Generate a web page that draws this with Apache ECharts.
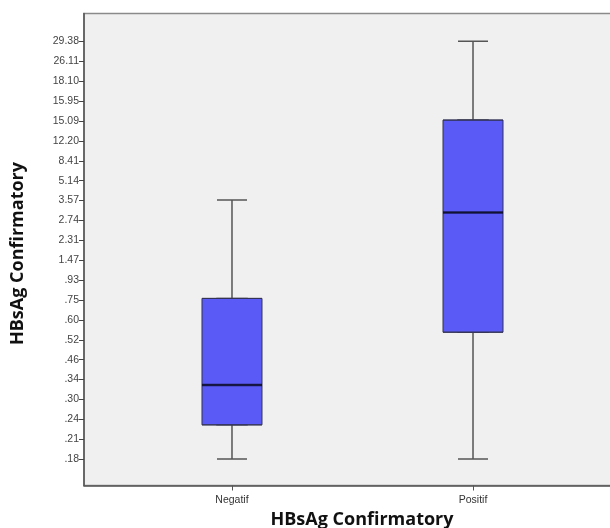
<!DOCTYPE html>
<html>
<head>
<meta charset="utf-8">
<script src="https://cdn.jsdelivr.net/npm/echarts@6/dist/echarts.min.js"></script>
<style>html,body{margin:0;padding:0;background:#fff}#c{width:610px;height:528px}</style>
</head>
<body>
<div id="c"></div>
<script>
// Category labels on x (positions 0,1)
var categories = ['Negatif', 'Positif'];
// Ordinal y tick labels (rank 0 = bottom)
var yTickLabels = ['.18', '.21', '.24', '.30', '.34', '.46', '.52', '.60', '.75', '.93', '1.47',
  '2.31', '2.74', '3.57', '5.14', '8.41', '12.20', '15.09', '15.95', '18.10', '26.11', '29.38'];
// Box statistics, in rank units of the ordinal y axis
var whiskerMin = [0, 0];
var q1 = [1.72, 6.38];
var median = [3.73, 12.4];
var q3 = [8.08, 17.05];
var whiskerMax = [13.03, 21.02];

var chart = echarts.init(document.getElementById('c'), null, {renderer: 'canvas'});

var whiskerData = categories.map(function (c, i) { return [i, whiskerMin[i], q1[i], median[i], q3[i], whiskerMax[i]]; });
var boxData = categories.map(function (c, i) { return [i, q1[i], q1[i], median[i], q3[i], q3[i]]; });
var medData = categories.map(function (c, i) { return [i, median[i]]; });
var yIdx = yTickLabels.map(function (l, i) { return i; });
var xIdx = categories.map(function (c, i) { return i; });

chart.setOption({
  animation: false,
  backgroundColor: '#ffffff',
  grid: {
    left: 84, top: 13.5, right: -11, bottom: 42.5,
    outerBoundsMode: 'none', containLabel: false,
    show: true, backgroundColor: '#f0f0f0', borderColor: '#8a8a8a', borderWidth: 1.5
  },
  xAxis: [{
    type: 'value', min: -0.614, max: 1.614,
    splitLine: {show: false},
    axisLine: {show: true, onZero: false, lineStyle: {color: '#555', width: 1.5}},
    axisTick: {show: true, customValues: xIdx, length: 5, lineStyle: {color: '#555'}},
    axisLabel: {customValues: xIdx, formatter: function (v) { return categories[Math.round(v)]; },
      fontFamily: 'Liberation Sans', fontSize: 10.5, color: '#333', margin: 9},
    name: 'HBsAg Confirmatory', nameLocation: 'middle', nameGap: 19,
    nameTextStyle: {fontFamily: 'Open Sans', fontWeight: 'bold', fontSize: 18, color: '#111', padding: [0, 0, 0, 19]}
  }, {
    type: 'value', min: -0.614, max: 1.614, show: false
  }],
  yAxis: {
    type: 'value', min: -1.33, max: 22.41,
    splitLine: {show: false},
    axisLine: {show: true, onZero: false, lineStyle: {color: '#555', width: 1.5}},
    axisTick: {show: true, customValues: yIdx, length: 5, lineStyle: {color: '#444'}},
    axisLabel: {customValues: yIdx, formatter: function (v) { return yTickLabels[Math.round(v)]; },
      fontFamily: 'Liberation Sans', fontSize: 10.5, color: '#444', margin: 5},
    name: 'HBsAg Confirmatory', nameLocation: 'middle', nameGap: 57, nameRotate: 90,
    nameTextStyle: {fontFamily: 'Open Sans', fontWeight: 'bold', fontSize: 18, color: '#111', padding: [0, 8, 0, 0]}
  },
  series: [
    {
      type: 'boxplot', xAxisIndex: 0, z: 2, boxWidth: [30, 30],
      itemStyle: {color: 'rgba(0,0,0,0)', borderColor: '#555', borderWidth: 1.5},
      data: whiskerData
    },
    {
      type: 'boxplot', xAxisIndex: 1, z: 3, boxWidth: [60, 60],
      itemStyle: {color: '#5a5af7', borderColor: '#333355', borderWidth: 1},
      data: boxData
    },
    {
      type: 'scatter', xAxisIndex: 0, z: 4, symbol: 'rect', symbolSize: [60, 2.5],
      itemStyle: {color: '#0a0a2a'}, data: medData
    }
  ]
});
</script>
</body>
</html>
